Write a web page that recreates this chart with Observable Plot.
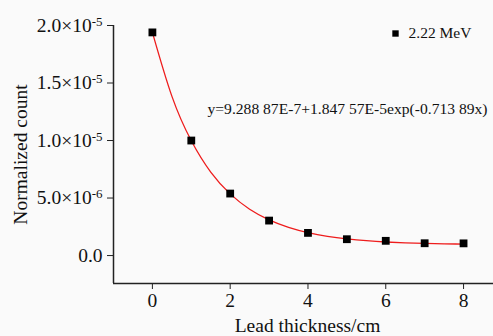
<!DOCTYPE html>
<html>
<head>
<meta charset="utf-8">
<script src="https://cdn.jsdelivr.net/npm/d3@7"></script>
<script src="https://cdn.jsdelivr.net/npm/@observablehq/plot@0.6"></script>
<style>
  html, body { margin: 0; padding: 0; background: #fafafa; }
  #chart svg { display: block; }
  #chart svg tspan.it { font-style: italic; }
</style>
</head>
<body>
<div id="chart"></div>
<script>
// Measured points (lead thickness in cm, normalized count)
const thickness = [0, 1, 2, 3, 4, 5, 6, 7, 8];
const counts = [1.94e-5, 1.0e-5, 5.39e-6, 3.04e-6, 1.97e-6, 1.42e-6, 1.28e-6, 1.07e-6, 1.06e-6];

// Fitted curve
const fitX = [0, 0.5, 1, 1.5, 2, 2.5, 3, 3.5, 4, 4.5, 5, 5.5, 6, 6.5, 7, 7.5, 8];
const fitY = [1.940e-5, 1.386e-5, 9.98e-6, 7.26e-6, 5.36e-6, 4.03e-6, 3.10e-6, 2.45e-6, 1.99e-6,
              1.67e-6, 1.45e-6, 1.29e-6, 1.18e-6, 1.11e-6, 1.05e-6, 1.02e-6, 0.99e-6];

const xTicks = [0, 2, 4, 6, 8];
const yTicks = [0, 5e-6, 1e-5, 1.5e-5, 2e-5];
const yTickLabels = ["0.0", "5.0×10^-6", "1.0×10^-5", "1.5×10^-5", "2.0×10^-5"];

const legendLabel = "2.22 MeV";
const equationParts = [
  {t: "y", italic: true},
  {t: "=9.288 87E-7+1.847 57E-5exp(-0.713 89", italic: false},
  {t: "x", italic: true},
  {t: ")", italic: false}
];
const xTitle = "Lead thickness/cm";
const yTitle = "Normalized count";

const points = thickness.map((x, i) => ({x, y: counts[i]}));
const fit = fitX.map((x, i) => ({x, y: fitY[i]}));

const xDomain = [-1, 8.77];
const yDomain = [-2.43e-6, 2.0e-5];
const axisColor = "#222";

const chart = Plot.plot({
  width: 493,
  height: 336,
  marginLeft: 113,
  marginRight: 0,
  marginTop: 25,
  marginBottom: 53,
  style: {fontFamily: "Liberation Serif, Times New Roman, serif", fontSize: "19px", background: "#fafafa", color: axisColor},
  x: {domain: xDomain},
  y: {domain: yDomain},
  marks: [
    Plot.axisX({ticks: xTicks, tickSize: 6, tickPadding: 4, label: null, stroke: axisColor, fontSize: 19.5, fill: "#111"}),
    Plot.axisY({ticks: yTicks, tickSize: 6, tickPadding: 5, label: null, stroke: axisColor, fontSize: 19.5, fill: "#111",
      tickFormat: (d) => yTickLabels[yTicks.indexOf(d)]}),
    Plot.ruleX([xDomain[0]], {stroke: axisColor, strokeWidth: 1.5}),
    Plot.ruleY([yDomain[0]], {stroke: axisColor, strokeWidth: 1.5}),
    Plot.line(fit, {x: "x", y: "y", curve: "natural", stroke: "#ee1c1c", strokeWidth: 1.3}),
    Plot.dot(points, {x: "x", y: "y", symbol: "square", r: 4.4, fill: "#000", stroke: "none"}),
    Plot.dot([legendLabel], {frameAnchor: "top-left", dx: 282, dy: 8, symbol: "square", r: 3.6, fill: "#000", stroke: "none"}),
    Plot.text([legendLabel], {frameAnchor: "top-left", dx: 295, dy: 8, text: (d) => d, textAnchor: "start", lineAnchor: "middle", fontSize: 15.5, fill: "#111"}),
    Plot.text([equationParts.map((p) => p.t).join("")], {frameAnchor: "top-left", dx: 94, dy: 83, text: (d) => d, textAnchor: "start", lineAnchor: "middle", fontSize: 15.6, fill: "#111", ariaLabel: "equation"}),
    Plot.text([xTitle], {frameAnchor: "bottom", dx: 4, dy: 42, text: (d) => d, textAnchor: "middle", lineAnchor: "middle", fontSize: 19.5, fill: "#111"}),
    Plot.text([yTitle], {frameAnchor: "left", dx: -93, text: (d) => d, rotate: -90, textAnchor: "middle", lineAnchor: "middle", fontSize: 19.5, fill: "#111"})
  ]
});

// superscripts in the y tick labels
d3.select(chart).selectAll('g[aria-label="y-axis tick label"] text').each(function() {
  const s = this.textContent;
  if (s.includes("^")) {
    const [base, exp] = s.split("^");
    const t = d3.select(this);
    t.text(base);
    t.append("tspan").attr("dy", "-0.45em").attr("font-size", "13px").text(exp);
  }
});

// italic y and x in the equation
d3.select(chart).selectAll('g[aria-label="equation"] text').each(function() {
  const t = d3.select(this);
  t.text("");
  equationParts.forEach((p) => {
    const ts = t.append("tspan").text(p.t);
    if (p.italic) ts.attr("class", "it").attr("font-style", "italic").style("font-style", "italic");
  });
});

document.getElementById("chart").appendChild(chart);
</script>
</body>
</html>
